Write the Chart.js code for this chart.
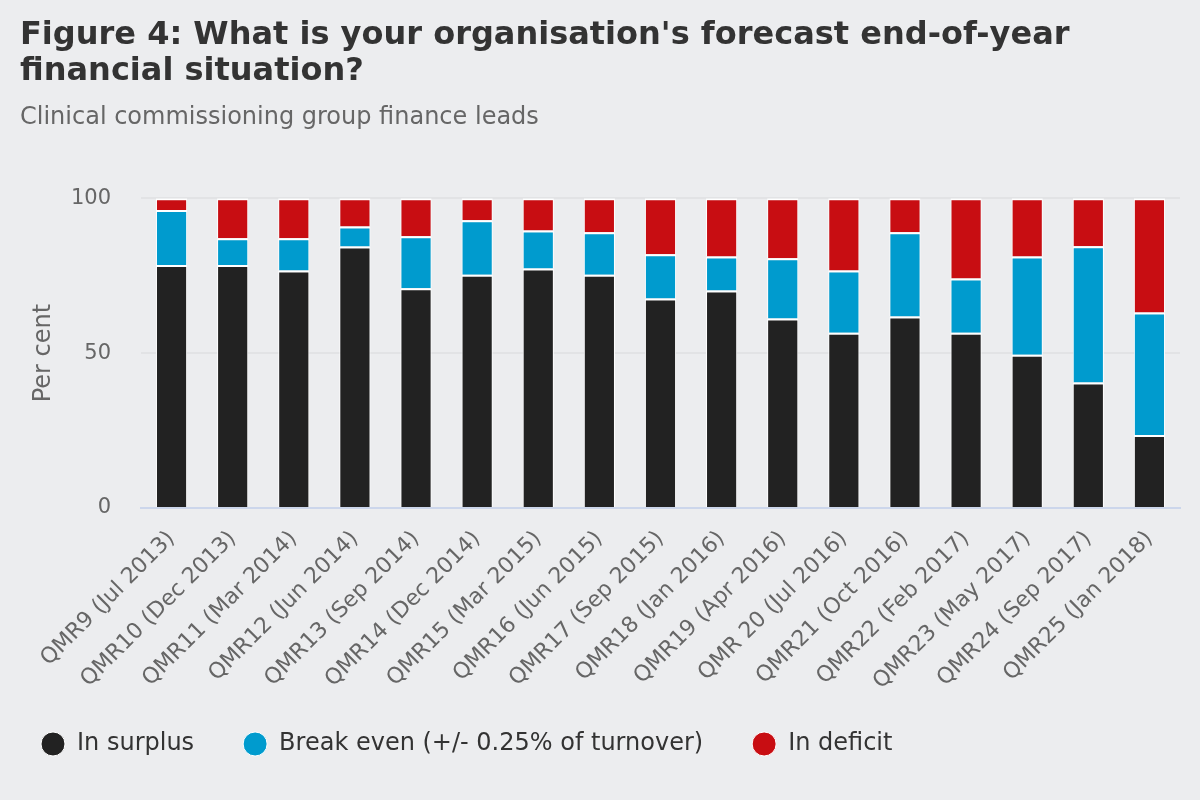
<!DOCTYPE html>
<html>
<head>
<meta charset="utf-8">
<script src="https://cdn.jsdelivr.net/npm/chart.js@4/dist/chart.umd.min.js"></script>
<style>
  html, body { margin: 0; padding: 0; background: #ecedef; }
  #wrap { width: 1200px; height: 800px; }
</style>
</head>
<body>
<div id="wrap"><canvas id="chart" width="1200" height="800"></canvas></div>
<script>
// survey rounds
const rounds = [
  "QMR9 (Jul 2013)", "QMR10 (Dec 2013)", "QMR11 (Mar 2014)", "QMR12 (Jun 2014)",
  "QMR13 (Sep 2014)", "QMR14 (Dec 2014)", "QMR15 (Mar 2015)", "QMR16 (Jun 2015)",
  "QMR17 (Sep 2015)", "QMR18 (Jan 2016)", "QMR19 (Apr 2016)", "QMR 20 (Jul 2016)",
  "QMR21 (Oct 2016)", "QMR22 (Feb 2017)", "QMR23 (May 2017)", "QMR24 (Sep 2017)",
  "QMR25 (Jan 2018)"
];

// per cent of respondents
const inSurplus = [78.4, 78.4, 76.7, 84.4, 70.9, 75.3, 77.3, 75.3, 67.6, 70.2, 61.2, 56.6, 61.8, 56.6, 49.5, 40.5, 23.6];
const breakEven = [17.8, 8.7, 10.4, 6.5, 16.8, 17.6, 12.3, 13.7, 14.3, 11.0, 19.4, 20.1, 27.2, 17.5, 31.7, 44.0, 39.5];
const inDeficit = [3.8, 12.9, 12.9, 9.1, 12.3, 7.1, 10.4, 11.0, 18.1, 18.8, 19.4, 23.3, 11.0, 25.9, 18.8, 15.5, 36.9];

const yTicks = [0, 50, 100];

const FONT = "'DejaVu Sans', Verdana, sans-serif";
const $ = (id) => document.getElementById(id);

function series(label, data, color){
  return {
    label,
    data,
    backgroundColor: color,
    borderColor: "#ffffff",
    borderWidth: { top: 2, left: 1, right: 1, bottom: 0 },
    borderSkipped: "start",
    barPercentage: 0.51,
    categoryPercentage: 1
  };
}

// legend items are spaced wide apart (padding 49), so pull the box back
// to the left margin and up a little
const legendShift = {
  id: "legendShift",
  afterLayout(chart){
    if (!chart.legend) return;
    chart.legend.left -= 28;
    chart.legend.top -= 34;
  }
};

new Chart($("chart"), {
  type: "bar",
  data: {
    labels: rounds,
    datasets: [
      series("In surplus", inSurplus, "#222222"),
      series("Break even (+/- 0.25% of turnover)", breakEven, "#009bce"),
      series("In deficit", inDeficit, "#c80d12")
    ]
  },
  plugins: [legendShift],
  options: {
    responsive: false,
    animation: false,
    devicePixelRatio: 1,
    layout: { padding: { left: 20, right: 20, top: 17, bottom: 0 } },
    plugins: {
      tooltip: { enabled: false },
      title: {
        display: true,
        align: "start",
        text: ["Figure 4: What is your organisation's forecast end-of-year", "financial situation?"],
        color: "#333333",
        font: { family: FONT, size: 32, weight: "bold", lineHeight: 1.147 },
        padding: { top: 0, bottom: 13 }
      },
      subtitle: {
        display: true,
        align: "start",
        text: "Clinical commissioning group finance leads",
        color: "#666666",
        font: { family: FONT, size: 24, lineHeight: 1.2 },
        padding: { top: 0, bottom: 66 }
      },
      legend: {
        position: "bottom",
        align: "start",
        labels: {
          usePointStyle: true,
          pointStyle: "circle",
          boxHeight: 17,
          pointStyleWidth: 24,
          padding: 49,
          color: "#333333",
          font: { family: FONT, size: 24 }
        }
      }
    },
    scales: {
      x: {
        stacked: true,
        grid: { display: false },
        border: { display: true, color: "#ccd6eb", width: 2 },
        ticks: {
          color: "#666666",
          font: { family: FONT, size: 22 },
          minRotation: 45,
          maxRotation: 45,
          autoSkip: false,
          padding: 10
        },
        afterFit: (axis) => {
          axis.height = 209;
          axis.paddingLeft = 0;
          axis.paddingRight = 0;
        }
      },
      y: {
        stacked: true,
        min: 0,
        max: 100,
        afterBuildTicks: (axis) => { axis.ticks = yTicks.map(v => ({ value: v })); },
        grid: { color: "#e2e3e5", lineWidth: 2, drawTicks: false },
        border: { display: false },
        ticks: {
          color: "#666666",
          font: { family: FONT, size: 21 },
          padding: 30
        },
        title: {
          display: true,
          text: "Per cent",
          color: "#666666",
          font: { family: FONT, size: 24, lineHeight: 1.2 },
          padding: { top: 9, bottom: 13 }
        },
        afterFit: (axis) => { axis.width = 121; }
      }
    }
  }
});
</script>
</body>
</html>
